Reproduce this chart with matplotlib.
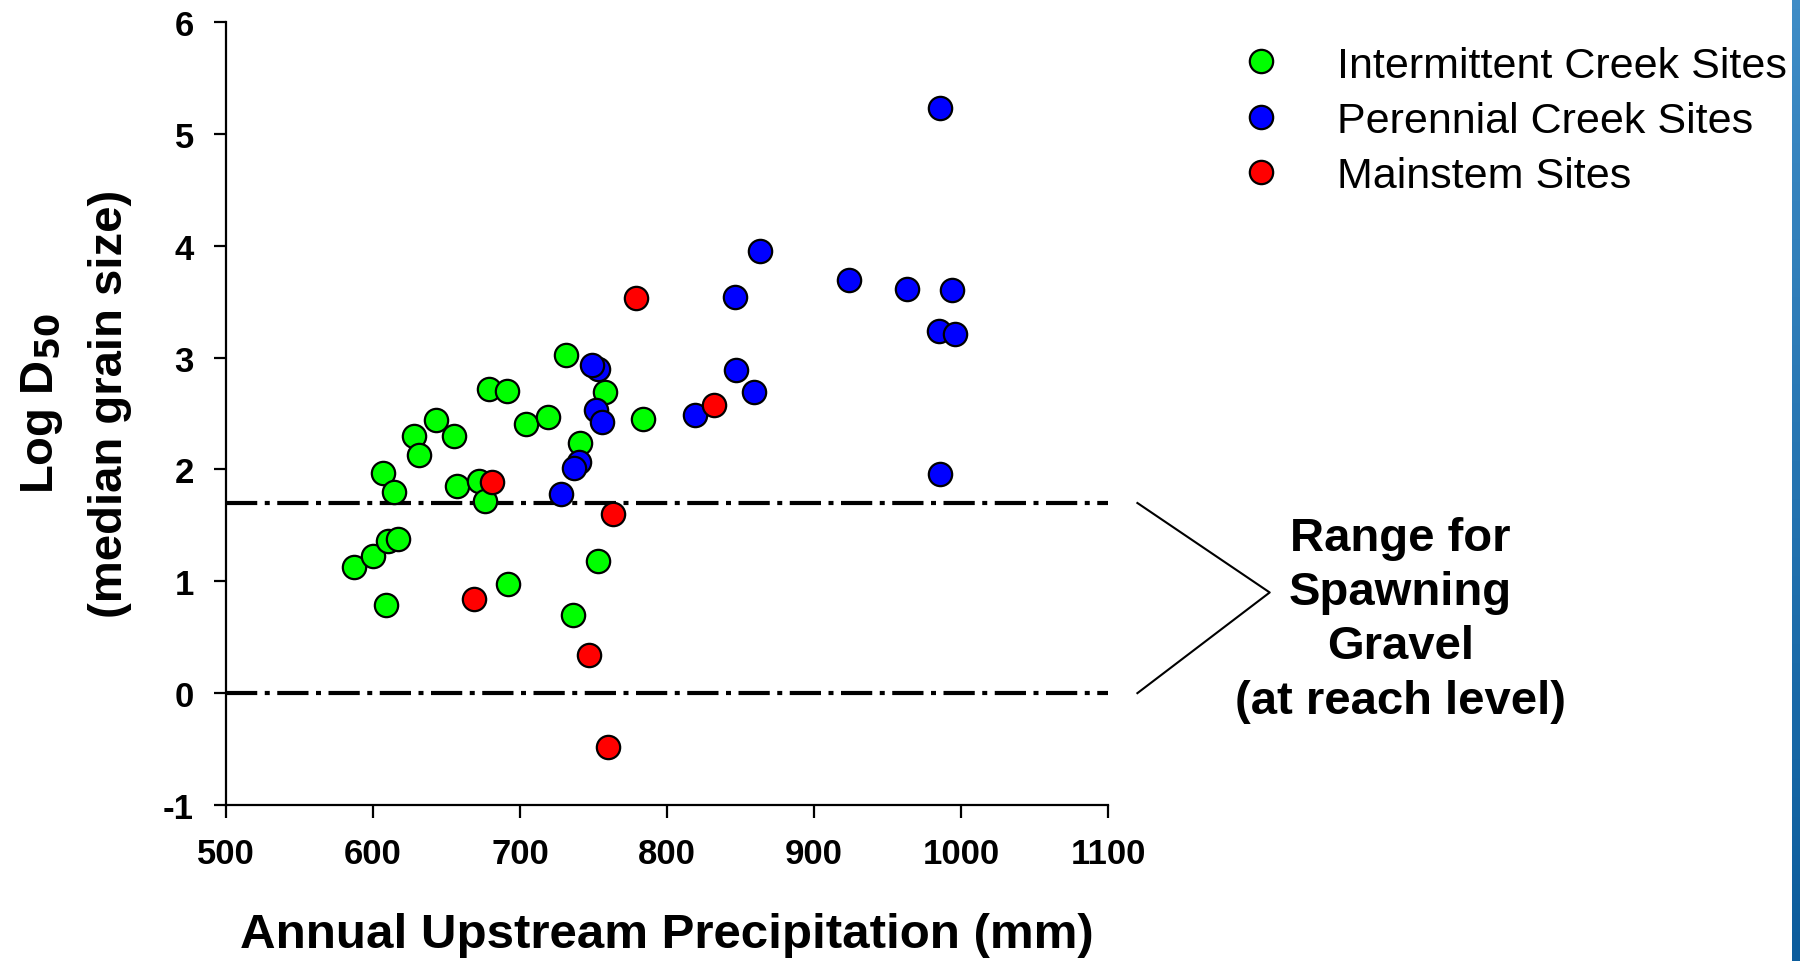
import numpy as np
import matplotlib.pyplot as plt
from matplotlib.colors import LinearSegmentedColormap

plt.rcParams['font.family'] = ['Liberation Sans', 'DejaVu Sans']
plt.rcParams['axes.unicode_minus'] = False

# Intermittent creek sites
int_x = [587, 600, 610, 617, 609, 607, 614, 628, 631, 643, 655, 657, 672, 676,
         679, 691, 692, 704, 719, 731, 741, 736, 758, 753, 784]
int_y = [1.13, 1.23, 1.36, 1.38, 0.79, 1.97, 1.80, 2.30, 2.13, 2.44, 2.30, 1.85,
         1.90, 1.72, 2.72, 2.70, 0.98, 2.41, 2.47, 3.02, 2.24, 0.70, 2.69, 1.18, 2.45]

# Perennial creek sites
per_x = [986, 863, 924, 963, 994, 846, 985, 996, 753, 749, 847, 859, 819, 752,
         756, 740, 737, 986, 728]
per_y = [5.23, 3.95, 3.69, 3.61, 3.60, 3.54, 3.24, 3.21, 2.90, 2.93, 2.89, 2.69,
         2.49, 2.53, 2.42, 2.07, 2.01, 1.96, 1.78]

# Mainstem sites
main_x = [779, 832, 681, 763, 669, 747, 760]
main_y = [3.53, 2.58, 1.89, 1.60, 0.84, 0.34, -0.48]

range_low, range_high = 0.0, 1.7

fig = plt.figure(figsize=(18, 9.62), dpi=100)
ax = fig.add_axes([226 / 1800, 1 - 806 / 962, 882 / 1800, 783 / 962])

ms = 16.8
for xs, ys, c, lab in [(int_x, int_y, '#00ff00', 'Intermittent Creek Sites'),
                       (per_x, per_y, '#0000ff', 'Perennial Creek Sites'),
                       (main_x, main_y, '#ff0000', 'Mainstem Sites')]:
    ax.plot(xs, ys, 'o', ms=ms, mfc=c, mec='black', mew=1.6, label=lab,
            clip_on=False, zorder=3)

# spawning gravel range lines
for yv in (range_low, range_high):
    ax.plot([500, 1100], [yv, yv], color='black', lw=3,
            dashes=(7.5, 1.8, 1.2, 1.8), zorder=2)

ax.set_xlim(500, 1100)
ax.set_ylim(-1, 6)
ax.set_xticks(np.arange(500, 1101, 100))
ax.set_yticks(np.arange(-1, 7, 1))
for s in ('top', 'right'):
    ax.spines[s].set_visible(False)
for s in ('left', 'bottom'):
    ax.spines[s].set_linewidth(1.6)
ax.tick_params(direction='out', length=9, width=1.6, labelsize=25, pad=14)
for lbl in ax.get_xticklabels() + ax.get_yticklabels():
    lbl.set_fontweight('bold')

fig.text(667 / 1800, 1 - 936 / 962, 'Annual Upstream Precipitation (mm)',
         fontsize=35.5, fontweight='bold', ha='center', va='center')
fig.text(42 / 1800, 1 - 404 / 962, 'Log D$_{\\mathbf{50}}$', rotation=90, fontsize=34,
         fontweight='bold', ha='center', va='center')
fig.text(110 / 1800, 1 - 404 / 962, '(median grain size)', rotation=90, fontsize=34,
         fontweight='bold', ha='center', va='center')

# callout bracket
apex = (1210, 0.9)
ax.plot([1120, apex[0], 1120], [range_high, apex[1], range_low], color='black',
        lw=1.5, clip_on=False)
ax.text(1299, 0.66, 'Range for\nSpawning\nGravel\n(at reach level)', fontsize=34,
        fontweight='bold', ha='center', va='center', linespacing=1.3)

fig.legend(loc='upper left', bbox_to_anchor=(1218 / 1800, 1 - 25 / 962),
           frameon=False, fontsize=31, handletextpad=1.27, labelspacing=0.35,
           borderpad=0, handlelength=1.0)

# blue strip on the right edge
sax = fig.add_axes([1792 / 1800, 0, 8 / 1800, 1])
cmap = LinearSegmentedColormap.from_list('strip', ['#3f8cc6', '#0b5c9c'])
sax.imshow(np.linspace(0, 1, 100).reshape(-1, 1), aspect='auto', cmap=cmap)
sax.axis('off')

fig.savefig('out.png', dpi=100)
